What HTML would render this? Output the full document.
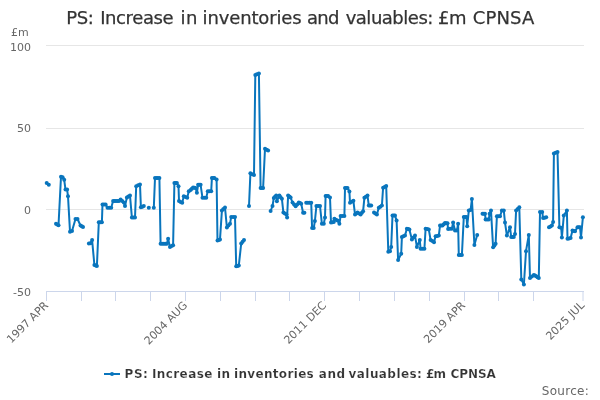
<!DOCTYPE html>
<html><head><meta charset="utf-8">
<style>
html,body{margin:0;padding:0;background:#fff;}
svg{display:block;font-family:"DejaVu Sans","Liberation Sans",sans-serif;}
</style></head><body>
<svg width="600" height="400" viewBox="0 0 600 400">
<rect width="600" height="400" fill="#fff"/>
<text y="24" font-size="18" fill="#333" stroke="#333" stroke-width="0.25"><tspan x="66.23" letter-spacing="-0.364">PS:</tspan> <tspan x="100.23" letter-spacing="-0.407">Increase</tspan> <tspan x="180.41" letter-spacing="0.6">in</tspan> <tspan x="202.55" letter-spacing="-0.139">inventories</tspan> <tspan x="306.89" letter-spacing="-0.6">and</tspan> <tspan x="345.66" letter-spacing="-0.487">valuables:</tspan> <tspan x="438.12" letter-spacing="-0.573">£m</tspan> <tspan x="472.74" letter-spacing="0.146">CPNSA</tspan></text>
<g stroke="#e6e6e6" stroke-width="1">
<path d="M46 45.5H584M46 128.5H584M46 209.5H584"/>
</g>
<path d="M46 291.5H584M46.5 291V301M81.5 291V301M115.5 291V301M150.5 291V301M185.5 291V301M220.5 291V301M255.5 291V301M289.5 291V301M324.5 291V301M359.5 291V301M394.5 291V301M429.5 291V301M464.5 291V301M498.5 291V301M533.5 291V301M583.0 291V301" stroke="#ccd6eb" stroke-width="1" fill="none"/>
<g font-size="11" fill="#666">
<text x="11" y="36">£m</text>
<text x="31" y="51" text-anchor="end">100</text>
<text x="31" y="132" text-anchor="end">50</text>
<text x="31" y="214" text-anchor="end">0</text>
<text x="31" y="296" text-anchor="end">-50</text>
</g>
<g font-size="11" fill="#666" text-anchor="end">
<text transform="translate(49,306) rotate(-45)">1997 APR</text>
<text transform="translate(188,306) rotate(-45)">2004 AUG</text>
<text transform="translate(327,306) rotate(-45)">2011 DEC</text>
<text transform="translate(466,306) rotate(-45)">2019 APR</text>
<text transform="translate(585,306) rotate(-45)">2025 JUL</text>
</g>
<g id="series" fill="none" stroke="#0975bd" stroke-width="2" stroke-linejoin="round" stroke-linecap="round">
<path d="M46.7 183.0 L48.8 184.8"/>
<path d="M56.0 223.8 L57.2 224.6 L58.5 225.3 L61.0 176.7 L62.6 177.3 L64.2 179.8 L65.5 189.6 L67.1 189.6 L68.0 196.2 L70.0 231.8 L72.0 231.0 L75.5 219.0 L77.5 219.0 L80.5 225.5 L81.8 226.2 L83.0 227.0"/>
<path d="M88.9 243.4 L90.5 243.2 L92.1 240.0 L94.4 265.0 L95.7 265.5 L96.9 266.0 L98.8 222.2 L100.3 222.2 L101.9 222.2 L102.5 204.4 L104.0 204.4 L105.6 204.4 L107.5 207.8 L109.4 207.8 L111.2 207.8 L113.1 201.0 L114.6 201.0 L116.0 201.0 L117.5 201.0 L119.0 201.0 L120.6 199.5 L122.2 201.0 L123.8 202.5 L125.0 206.0 L126.9 197.5 L128.4 196.6 L130.0 195.6 L131.9 217.5 L133.4 217.5 L135.0 217.5 L136.2 186.2 L138.1 185.3 L140.0 184.4 L140.9 207.3 L142.4 206.7 L143.8 206.1"/>
<path d="M153.8 207.8 L155.0 178.1 L156.5 178.1 L157.9 178.1 L159.4 178.1 L160.6 243.8 L162.2 243.8 L163.8 243.8 L165.3 243.8 L166.9 243.8 L168.1 238.8 L170.0 246.9 L171.6 246.1 L173.1 245.2 L174.4 183.1 L175.7 183.1 L176.9 183.1 L178.5 186.2 L179.0 201.0 L180.6 201.9 L182.2 202.8 L183.8 196.2 L185.5 197.0 L187.2 197.8 L188.8 191.2 L190.6 190.0 L191.8 188.8 L193.1 187.5 L194.3 187.8 L195.6 188.1 L196.9 192.8 L198.1 184.8 L199.3 184.8 L200.6 184.8 L202.5 197.8 L204.4 197.8 L206.2 197.8 L207.8 191.2 L209.5 191.2 L211.2 191.2 L211.9 178.1 L213.2 178.1 L214.4 178.1 L216.6 179.4 L217.5 240.6 L218.8 240.0 L220.0 239.4 L221.9 210.6 L223.4 209.1 L225.0 207.5 L226.9 227.5 L228.4 225.6 L230.0 223.8 L231.2 216.9 L233.1 216.9 L235.0 216.9 L236.2 266.2 L237.5 265.9 L238.8 265.6 L241.2 243.5 L242.6 241.8 L244.0 240.0"/>
<path d="M249.0 206.0 L250.4 173.3 L252.2 174.2 L254.0 175.0 L255.3 75.0 L256.9 74.2 L258.9 73.4 L260.6 188.1 L261.9 188.1 L263.1 188.1 L265.0 148.8 L266.6 149.7 L268.1 150.6"/>
<path d="M270.6 211.0 L272.5 206.0 L273.8 198.1 L275.0 196.8 L276.2 195.6 L276.9 201.2 L279.4 195.6 L280.6 197.2 L281.9 198.8 L283.4 212.6 L284.9 213.5 L286.5 214.4 L287.1 217.5 L288.1 195.6 L289.4 196.6 L290.6 197.5 L292.5 202.5 L294.1 204.4 L295.6 206.2 L297.2 204.4 L298.8 202.5 L300.0 203.1 L301.2 203.8 L303.1 212.8 L304.4 212.8"/>
<path d="M306.2 202.8 L307.9 202.8 L309.6 202.8 L311.2 202.8 L312.1 228.1 L313.7 228.1 L314.9 221.0 L316.4 206.0 L318.2 206.0 L320.0 206.0 L321.9 223.8 L323.8 223.8 L325.0 217.5 L325.6 196.0 L326.9 196.0 L328.1 196.0 L330.0 197.5 L331.0 222.5 L332.4 222.2 L333.8 221.9 L334.4 218.8 L335.9 219.7 L337.5 220.6 L339.4 223.8 L340.6 216.0 L342.5 216.0 L344.4 216.0 L345.0 188.1 L346.2 188.1 L347.5 188.1 L349.4 191.4 L350.0 202.8 L351.7 201.8 L353.4 200.8 L355.0 214.4 L356.2 213.4 L357.5 212.5 L359.1 213.4 L360.6 214.4 L361.9 212.8 L363.1 211.2 L364.4 197.8 L365.9 196.7 L367.5 195.6 L368.8 205.6 L370.0 205.6 L371.2 205.6"/>
<path d="M374.0 212.5 L375.4 213.4 L376.9 214.4 L378.8 207.8 L380.3 206.7 L381.9 205.6 L383.1 187.8 L384.7 186.9 L386.2 186.0 L388.3 251.8 L390.0 251.2 L391.2 246.9 L392.5 215.6 L393.8 215.6 L395.0 215.6 L396.6 220.6 L398.1 260.0 L401.2 253.8 L401.9 236.9 L403.4 236.2 L405.0 235.6 L406.9 228.8 L408.1 229.1 L409.4 229.4 L411.9 239.4 L413.4 237.5 L415.0 235.6 L416.9 246.9 L419.8 240.0 L420.6 248.8 L422.5 248.8 L424.4 248.8 L425.6 228.8 L427.2 229.1 L428.8 229.4 L430.6 240.0 L432.3 241.1 L434.0 242.2 L435.6 236.2 L437.2 235.9 L438.8 235.6 L440.0 225.6 L441.2 225.6 L442.5 225.6 L443.8 224.3 L445.0 223.1 L446.2 223.2 L447.5 223.3 L448.1 228.9 L450.0 228.8 L451.9 228.8 L453.1 222.5 L455.0 230.6 L456.9 230.6 L458.1 223.8 L458.8 255.0 L460.3 255.0 L461.9 255.0 L463.8 216.9 L465.1 216.9 L466.5 216.9 L467.2 226.2 L468.8 210.6 L470.6 210.0 L471.9 199.0 L474.4 245.0 L477.2 235.0"/>
<path d="M482.5 213.8 L483.8 213.8 L485.0 213.8 L485.6 219.4 L487.2 219.4 L488.8 219.4 L489.6 213.8 L491.0 210.6 L493.1 247.2 L494.4 245.5 L495.6 243.8 L496.9 216.2 L498.4 216.2 L500.0 216.2 L501.9 210.6 L503.8 210.6 L505.0 222.5 L506.9 235.6 L510.0 227.2 L511.2 237.0 L512.5 237.0 L513.8 237.0 L515.0 234.0 L516.1 210.6 L517.7 208.9 L519.3 207.2 L521.3 279.4 L523.9 284.5 L526.0 251.2 L528.8 235.0 L530.0 278.1 L531.9 276.6 L533.8 275.0 L535.0 275.6 L536.2 276.2 L537.5 277.2 L538.8 278.1 L540.0 211.9 L542.2 211.9 L543.1 218.1 L544.7 217.7 L546.2 217.2"/>
<path d="M549.0 227.2 L550.5 226.4 L551.9 225.6 L553.1 221.9 L553.9 153.5 L555.7 152.7 L557.5 151.9 L559.4 227.2 L561.2 227.8 L561.9 237.5 L563.8 215.6 L566.9 210.6 L567.5 238.8 L569.0 238.4 L570.6 238.1 L572.5 230.6 L573.8 230.9 L575.0 231.2 L577.5 227.2 L578.8 227.2 L580.0 227.2 L581.0 237.5 L582.9 217.2"/>
<g stroke="none" fill="#0975bd">
<circle cx="46.7" cy="183.0" r="2"/><circle cx="48.8" cy="184.8" r="2"/><circle cx="56.0" cy="223.8" r="2"/><circle cx="57.2" cy="224.6" r="2"/><circle cx="58.5" cy="225.3" r="2"/><circle cx="61.0" cy="176.7" r="2"/><circle cx="62.6" cy="177.3" r="2"/><circle cx="64.2" cy="179.8" r="2"/><circle cx="65.5" cy="189.6" r="2"/><circle cx="67.1" cy="189.6" r="2"/><circle cx="68.0" cy="196.2" r="2"/><circle cx="70.0" cy="231.8" r="2"/><circle cx="72.0" cy="231.0" r="2"/><circle cx="75.5" cy="219.0" r="2"/><circle cx="77.5" cy="219.0" r="2"/><circle cx="80.5" cy="225.5" r="2"/><circle cx="81.8" cy="226.2" r="2"/><circle cx="83.0" cy="227.0" r="2"/><circle cx="88.9" cy="243.4" r="2"/><circle cx="90.5" cy="243.2" r="2"/><circle cx="92.1" cy="240.0" r="2"/><circle cx="94.4" cy="265.0" r="2"/><circle cx="95.7" cy="265.5" r="2"/><circle cx="96.9" cy="266.0" r="2"/><circle cx="98.8" cy="222.2" r="2"/><circle cx="100.3" cy="222.2" r="2"/><circle cx="101.9" cy="222.2" r="2"/><circle cx="102.5" cy="204.4" r="2"/><circle cx="104.0" cy="204.4" r="2"/><circle cx="105.6" cy="204.4" r="2"/><circle cx="107.5" cy="207.8" r="2"/><circle cx="109.4" cy="207.8" r="2"/><circle cx="111.2" cy="207.8" r="2"/><circle cx="113.1" cy="201.0" r="2"/><circle cx="114.6" cy="201.0" r="2"/><circle cx="116.0" cy="201.0" r="2"/><circle cx="117.5" cy="201.0" r="2"/><circle cx="119.0" cy="201.0" r="2"/><circle cx="120.6" cy="199.5" r="2"/><circle cx="122.2" cy="201.0" r="2"/><circle cx="123.8" cy="202.5" r="2"/><circle cx="125.0" cy="206.0" r="2"/><circle cx="126.9" cy="197.5" r="2"/><circle cx="128.4" cy="196.6" r="2"/><circle cx="130.0" cy="195.6" r="2"/><circle cx="131.9" cy="217.5" r="2"/><circle cx="133.4" cy="217.5" r="2"/><circle cx="135.0" cy="217.5" r="2"/><circle cx="136.2" cy="186.2" r="2"/><circle cx="138.1" cy="185.3" r="2"/><circle cx="140.0" cy="184.4" r="2"/><circle cx="140.9" cy="207.3" r="2"/><circle cx="142.4" cy="206.7" r="2"/><circle cx="143.8" cy="206.1" r="2"/><circle cx="148.8" cy="207.8" r="2"/><circle cx="153.8" cy="207.8" r="2"/><circle cx="155.0" cy="178.1" r="2"/><circle cx="156.5" cy="178.1" r="2"/><circle cx="157.9" cy="178.1" r="2"/><circle cx="159.4" cy="178.1" r="2"/><circle cx="160.6" cy="243.8" r="2"/><circle cx="162.2" cy="243.8" r="2"/><circle cx="163.8" cy="243.8" r="2"/><circle cx="165.3" cy="243.8" r="2"/><circle cx="166.9" cy="243.8" r="2"/><circle cx="168.1" cy="238.8" r="2"/><circle cx="170.0" cy="246.9" r="2"/><circle cx="171.6" cy="246.1" r="2"/><circle cx="173.1" cy="245.2" r="2"/><circle cx="174.4" cy="183.1" r="2"/><circle cx="175.7" cy="183.1" r="2"/><circle cx="176.9" cy="183.1" r="2"/><circle cx="178.5" cy="186.2" r="2"/><circle cx="179.0" cy="201.0" r="2"/><circle cx="180.6" cy="201.9" r="2"/><circle cx="182.2" cy="202.8" r="2"/><circle cx="183.8" cy="196.2" r="2"/><circle cx="185.5" cy="197.0" r="2"/><circle cx="187.2" cy="197.8" r="2"/><circle cx="188.8" cy="191.2" r="2"/><circle cx="190.6" cy="190.0" r="2"/><circle cx="191.8" cy="188.8" r="2"/><circle cx="193.1" cy="187.5" r="2"/><circle cx="194.3" cy="187.8" r="2"/><circle cx="195.6" cy="188.1" r="2"/><circle cx="196.9" cy="192.8" r="2"/><circle cx="198.1" cy="184.8" r="2"/><circle cx="199.3" cy="184.8" r="2"/><circle cx="200.6" cy="184.8" r="2"/><circle cx="202.5" cy="197.8" r="2"/><circle cx="204.4" cy="197.8" r="2"/><circle cx="206.2" cy="197.8" r="2"/><circle cx="207.8" cy="191.2" r="2"/><circle cx="209.5" cy="191.2" r="2"/><circle cx="211.2" cy="191.2" r="2"/><circle cx="211.9" cy="178.1" r="2"/><circle cx="213.2" cy="178.1" r="2"/><circle cx="214.4" cy="178.1" r="2"/><circle cx="216.6" cy="179.4" r="2"/><circle cx="217.5" cy="240.6" r="2"/><circle cx="218.8" cy="240.0" r="2"/><circle cx="220.0" cy="239.4" r="2"/><circle cx="221.9" cy="210.6" r="2"/><circle cx="223.4" cy="209.1" r="2"/><circle cx="225.0" cy="207.5" r="2"/><circle cx="226.9" cy="227.5" r="2"/><circle cx="228.4" cy="225.6" r="2"/><circle cx="230.0" cy="223.8" r="2"/><circle cx="231.2" cy="216.9" r="2"/><circle cx="233.1" cy="216.9" r="2"/><circle cx="235.0" cy="216.9" r="2"/><circle cx="236.2" cy="266.2" r="2"/><circle cx="237.5" cy="265.9" r="2"/><circle cx="238.8" cy="265.6" r="2"/><circle cx="241.2" cy="243.5" r="2"/><circle cx="242.6" cy="241.8" r="2"/><circle cx="244.0" cy="240.0" r="2"/><circle cx="249.0" cy="206.0" r="2"/><circle cx="250.4" cy="173.3" r="2"/><circle cx="252.2" cy="174.2" r="2"/><circle cx="254.0" cy="175.0" r="2"/><circle cx="255.3" cy="75.0" r="2"/><circle cx="256.9" cy="74.2" r="2"/><circle cx="258.9" cy="73.4" r="2"/><circle cx="260.6" cy="188.1" r="2"/><circle cx="261.9" cy="188.1" r="2"/><circle cx="263.1" cy="188.1" r="2"/><circle cx="265.0" cy="148.8" r="2"/><circle cx="266.6" cy="149.7" r="2"/><circle cx="268.1" cy="150.6" r="2"/><circle cx="270.6" cy="211.0" r="2"/><circle cx="272.5" cy="206.0" r="2"/><circle cx="273.8" cy="198.1" r="2"/><circle cx="275.0" cy="196.8" r="2"/><circle cx="276.2" cy="195.6" r="2"/><circle cx="276.9" cy="201.2" r="2"/><circle cx="279.4" cy="195.6" r="2"/><circle cx="280.6" cy="197.2" r="2"/><circle cx="281.9" cy="198.8" r="2"/><circle cx="283.4" cy="212.6" r="2"/><circle cx="284.9" cy="213.5" r="2"/><circle cx="286.5" cy="214.4" r="2"/><circle cx="287.1" cy="217.5" r="2"/><circle cx="288.1" cy="195.6" r="2"/><circle cx="289.4" cy="196.6" r="2"/><circle cx="290.6" cy="197.5" r="2"/><circle cx="292.5" cy="202.5" r="2"/><circle cx="294.1" cy="204.4" r="2"/><circle cx="295.6" cy="206.2" r="2"/><circle cx="297.2" cy="204.4" r="2"/><circle cx="298.8" cy="202.5" r="2"/><circle cx="300.0" cy="203.1" r="2"/><circle cx="301.2" cy="203.8" r="2"/><circle cx="303.1" cy="212.8" r="2"/><circle cx="304.4" cy="212.8" r="2"/><circle cx="306.2" cy="202.8" r="2"/><circle cx="307.9" cy="202.8" r="2"/><circle cx="309.6" cy="202.8" r="2"/><circle cx="311.2" cy="202.8" r="2"/><circle cx="312.1" cy="228.1" r="2"/><circle cx="313.7" cy="228.1" r="2"/><circle cx="314.9" cy="221.0" r="2"/><circle cx="316.4" cy="206.0" r="2"/><circle cx="318.2" cy="206.0" r="2"/><circle cx="320.0" cy="206.0" r="2"/><circle cx="321.9" cy="223.8" r="2"/><circle cx="323.8" cy="223.8" r="2"/><circle cx="325.0" cy="217.5" r="2"/><circle cx="325.6" cy="196.0" r="2"/><circle cx="326.9" cy="196.0" r="2"/><circle cx="328.1" cy="196.0" r="2"/><circle cx="330.0" cy="197.5" r="2"/><circle cx="331.0" cy="222.5" r="2"/><circle cx="332.4" cy="222.2" r="2"/><circle cx="333.8" cy="221.9" r="2"/><circle cx="334.4" cy="218.8" r="2"/><circle cx="335.9" cy="219.7" r="2"/><circle cx="337.5" cy="220.6" r="2"/><circle cx="339.4" cy="223.8" r="2"/><circle cx="340.6" cy="216.0" r="2"/><circle cx="342.5" cy="216.0" r="2"/><circle cx="344.4" cy="216.0" r="2"/><circle cx="345.0" cy="188.1" r="2"/><circle cx="346.2" cy="188.1" r="2"/><circle cx="347.5" cy="188.1" r="2"/><circle cx="349.4" cy="191.4" r="2"/><circle cx="350.0" cy="202.8" r="2"/><circle cx="351.7" cy="201.8" r="2"/><circle cx="353.4" cy="200.8" r="2"/><circle cx="355.0" cy="214.4" r="2"/><circle cx="356.2" cy="213.4" r="2"/><circle cx="357.5" cy="212.5" r="2"/><circle cx="359.1" cy="213.4" r="2"/><circle cx="360.6" cy="214.4" r="2"/><circle cx="361.9" cy="212.8" r="2"/><circle cx="363.1" cy="211.2" r="2"/><circle cx="364.4" cy="197.8" r="2"/><circle cx="365.9" cy="196.7" r="2"/><circle cx="367.5" cy="195.6" r="2"/><circle cx="368.8" cy="205.6" r="2"/><circle cx="370.0" cy="205.6" r="2"/><circle cx="371.2" cy="205.6" r="2"/><circle cx="374.0" cy="212.5" r="2"/><circle cx="375.4" cy="213.4" r="2"/><circle cx="376.9" cy="214.4" r="2"/><circle cx="378.8" cy="207.8" r="2"/><circle cx="380.3" cy="206.7" r="2"/><circle cx="381.9" cy="205.6" r="2"/><circle cx="383.1" cy="187.8" r="2"/><circle cx="384.7" cy="186.9" r="2"/><circle cx="386.2" cy="186.0" r="2"/><circle cx="388.3" cy="251.8" r="2"/><circle cx="390.0" cy="251.2" r="2"/><circle cx="391.2" cy="246.9" r="2"/><circle cx="392.5" cy="215.6" r="2"/><circle cx="393.8" cy="215.6" r="2"/><circle cx="395.0" cy="215.6" r="2"/><circle cx="396.6" cy="220.6" r="2"/><circle cx="398.1" cy="260.0" r="2"/><circle cx="401.2" cy="253.8" r="2"/><circle cx="401.9" cy="236.9" r="2"/><circle cx="403.4" cy="236.2" r="2"/><circle cx="405.0" cy="235.6" r="2"/><circle cx="406.9" cy="228.8" r="2"/><circle cx="408.1" cy="229.1" r="2"/><circle cx="409.4" cy="229.4" r="2"/><circle cx="411.9" cy="239.4" r="2"/><circle cx="413.4" cy="237.5" r="2"/><circle cx="415.0" cy="235.6" r="2"/><circle cx="416.9" cy="246.9" r="2"/><circle cx="419.8" cy="240.0" r="2"/><circle cx="420.6" cy="248.8" r="2"/><circle cx="422.5" cy="248.8" r="2"/><circle cx="424.4" cy="248.8" r="2"/><circle cx="425.6" cy="228.8" r="2"/><circle cx="427.2" cy="229.1" r="2"/><circle cx="428.8" cy="229.4" r="2"/><circle cx="430.6" cy="240.0" r="2"/><circle cx="432.3" cy="241.1" r="2"/><circle cx="434.0" cy="242.2" r="2"/><circle cx="435.6" cy="236.2" r="2"/><circle cx="437.2" cy="235.9" r="2"/><circle cx="438.8" cy="235.6" r="2"/><circle cx="440.0" cy="225.6" r="2"/><circle cx="441.2" cy="225.6" r="2"/><circle cx="442.5" cy="225.6" r="2"/><circle cx="443.8" cy="224.3" r="2"/><circle cx="445.0" cy="223.1" r="2"/><circle cx="446.2" cy="223.2" r="2"/><circle cx="447.5" cy="223.3" r="2"/><circle cx="448.1" cy="228.9" r="2"/><circle cx="450.0" cy="228.8" r="2"/><circle cx="451.9" cy="228.8" r="2"/><circle cx="453.1" cy="222.5" r="2"/><circle cx="455.0" cy="230.6" r="2"/><circle cx="456.9" cy="230.6" r="2"/><circle cx="458.1" cy="223.8" r="2"/><circle cx="458.8" cy="255.0" r="2"/><circle cx="460.3" cy="255.0" r="2"/><circle cx="461.9" cy="255.0" r="2"/><circle cx="463.8" cy="216.9" r="2"/><circle cx="465.1" cy="216.9" r="2"/><circle cx="466.5" cy="216.9" r="2"/><circle cx="467.2" cy="226.2" r="2"/><circle cx="468.8" cy="210.6" r="2"/><circle cx="470.6" cy="210.0" r="2"/><circle cx="471.9" cy="199.0" r="2"/><circle cx="474.4" cy="245.0" r="2"/><circle cx="477.2" cy="235.0" r="2"/><circle cx="482.5" cy="213.8" r="2"/><circle cx="483.8" cy="213.8" r="2"/><circle cx="485.0" cy="213.8" r="2"/><circle cx="485.6" cy="219.4" r="2"/><circle cx="487.2" cy="219.4" r="2"/><circle cx="488.8" cy="219.4" r="2"/><circle cx="489.6" cy="213.8" r="2"/><circle cx="491.0" cy="210.6" r="2"/><circle cx="493.1" cy="247.2" r="2"/><circle cx="494.4" cy="245.5" r="2"/><circle cx="495.6" cy="243.8" r="2"/><circle cx="496.9" cy="216.2" r="2"/><circle cx="498.4" cy="216.2" r="2"/><circle cx="500.0" cy="216.2" r="2"/><circle cx="501.9" cy="210.6" r="2"/><circle cx="503.8" cy="210.6" r="2"/><circle cx="505.0" cy="222.5" r="2"/><circle cx="506.9" cy="235.6" r="2"/><circle cx="510.0" cy="227.2" r="2"/><circle cx="511.2" cy="237.0" r="2"/><circle cx="512.5" cy="237.0" r="2"/><circle cx="513.8" cy="237.0" r="2"/><circle cx="515.0" cy="234.0" r="2"/><circle cx="516.1" cy="210.6" r="2"/><circle cx="517.7" cy="208.9" r="2"/><circle cx="519.3" cy="207.2" r="2"/><circle cx="521.3" cy="279.4" r="2"/><circle cx="523.9" cy="284.5" r="2"/><circle cx="526.0" cy="251.2" r="2"/><circle cx="528.8" cy="235.0" r="2"/><circle cx="530.0" cy="278.1" r="2"/><circle cx="531.9" cy="276.6" r="2"/><circle cx="533.8" cy="275.0" r="2"/><circle cx="535.0" cy="275.6" r="2"/><circle cx="536.2" cy="276.2" r="2"/><circle cx="537.5" cy="277.2" r="2"/><circle cx="538.8" cy="278.1" r="2"/><circle cx="540.0" cy="211.9" r="2"/><circle cx="542.2" cy="211.9" r="2"/><circle cx="543.1" cy="218.1" r="2"/><circle cx="544.7" cy="217.7" r="2"/><circle cx="546.2" cy="217.2" r="2"/><circle cx="549.0" cy="227.2" r="2"/><circle cx="550.5" cy="226.4" r="2"/><circle cx="551.9" cy="225.6" r="2"/><circle cx="553.1" cy="221.9" r="2"/><circle cx="553.9" cy="153.5" r="2"/><circle cx="555.7" cy="152.7" r="2"/><circle cx="557.5" cy="151.9" r="2"/><circle cx="559.4" cy="227.2" r="2"/><circle cx="561.2" cy="227.8" r="2"/><circle cx="561.9" cy="237.5" r="2"/><circle cx="563.8" cy="215.6" r="2"/><circle cx="566.9" cy="210.6" r="2"/><circle cx="567.5" cy="238.8" r="2"/><circle cx="569.0" cy="238.4" r="2"/><circle cx="570.6" cy="238.1" r="2"/><circle cx="572.5" cy="230.6" r="2"/><circle cx="573.8" cy="230.9" r="2"/><circle cx="575.0" cy="231.2" r="2"/><circle cx="577.5" cy="227.2" r="2"/><circle cx="578.8" cy="227.2" r="2"/><circle cx="580.0" cy="227.2" r="2"/><circle cx="581.0" cy="237.5" r="2"/><circle cx="582.9" cy="217.2" r="2"/>
</g></g>
<path d="M104 374H120" stroke="#0975bd" stroke-width="2"/>
<circle cx="112" cy="374" r="2" fill="#0975bd"/>
<text y="378" font-size="12" font-weight="bold" fill="#333" stroke="#fff" stroke-width="0.18"><tspan x="124.6" letter-spacing="0.504">PS:</tspan> <tspan x="151.9" letter-spacing="0.418">Increase</tspan> <tspan x="216.99" letter-spacing="0.489">in</tspan> <tspan x="233.99" letter-spacing="0.332">inventories</tspan> <tspan x="318.78" letter-spacing="0.6">and</tspan> <tspan x="348.62" letter-spacing="0.418">valuables:</tspan> <tspan x="425.88" letter-spacing="-0.6">£m</tspan> <tspan x="450.4" letter-spacing="-0.029">CPNSA</tspan></text>
<text x="589" y="395" text-anchor="end" font-size="12" letter-spacing="0.28" fill="#666">Source:</text>
</svg>
</body></html>
